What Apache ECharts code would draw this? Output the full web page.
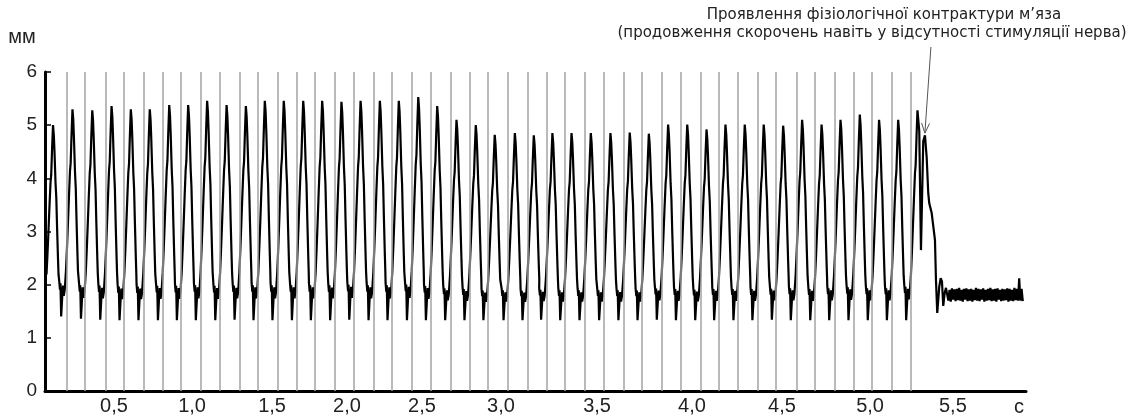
<!DOCTYPE html>
<html>
<head>
<meta charset="utf-8">
<script src="https://cdn.jsdelivr.net/npm/echarts@6/dist/echarts.min.js"></script>
<style>html,body{margin:0;padding:0;background:#fff}#c{width:1136px;height:417px}</style>
</head>
<body>
<div id="c"></div>
<script>
// ---- data ----
// stimulus marks (s); first one coincides with the y axis
const stimTimes = [0.009,0.125,0.243,0.358,0.473,0.586,0.702,0.815,0.928,1.044,1.159,1.272,1.385,1.501,1.614,1.729,1.843,1.958,2.071,2.187,2.300,2.415,2.530,2.643,2.763,2.876,2.987,3.101,3.216,3.333,3.448,3.562,3.677,3.791,3.906,4.019,4.134,4.247,4.363,4.476,4.592,4.705,4.820,4.935,5.049,5.164];
// peak amplitude of each contraction (mm), one per stimulus
const peakValues = [5.00,5.30,5.28,5.36,5.30,5.30,5.38,5.38,5.46,5.38,5.36,5.46,5.46,5.46,5.46,5.44,5.46,5.46,5.46,5.53,5.36,5.10,5.00,4.82,4.85,4.81,4.85,4.85,4.85,4.85,4.86,4.84,5.01,5.01,4.92,5.01,5.01,5.01,4.99,5.10,5.01,5.10,5.20,5.10,5.10,5.28];
// trough (relaxation) level before each contraction (mm)
const troughValues = [1.40,1.40,1.36,1.34,1.33,1.33,1.33,1.33,1.33,1.33,1.34,1.33,1.33,1.33,1.33,1.33,1.34,1.33,1.33,1.33,1.33,1.33,1.33,1.33,1.33,1.33,1.34,1.33,1.33,1.33,1.33,1.33,1.34,1.33,1.33,1.33,1.33,1.33,1.34,1.33,1.33,1.33,1.33,1.33,1.33,1.33];
// shape of one contraction read from a representative cycle:
// time offset from its stimulus (s) and relative level (0 = trough, 1 = peak)
const shapeOffsets = [-0.0400,-0.0358,-0.0328,-0.0286,-0.0227,-0.0179,-0.0131,-0.0072,0,0.0060,0.0119,0.0179,0.0239,0.0280,0.0334,0.0388,0.0435,0.0477,0.0537,0.0584,0.0632,0.0686,0.0716];
const shapeLevels  = [0.17,0.13,0.16,0,0.09,0.15,0.10,0.13,0.22,0.33,0.45,0.58,0.70,0.74,0.88,1,0.95,0.86,0.70,0.62,0.46,0.30,0.22];
// contracture at the end of the record
const endTimes  = [5.2135,5.2236,5.2373,5.2475,5.2576,5.2671,5.2731,5.2874,5.2970,5.3071,5.3131,5.3208,5.3268,5.3327,5.3411,5.3489,5.3566,5.3650,5.3727];
const endValues = [4.89,2.65,4.70,4.81,4.40,3.72,3.53,3.35,3.35,2.84,2.09,1.47,1.50,1.96,2.12,2.06,1.60,1.84,1.94];
// resting record after contracture, sampled every restStep s from restStart
const restStart = 5.3798, restStep = 0.00716;
const restValues = [1.92,1.70,1.90,1.68,1.93,1.72,1.91,1.69,1.92,1.71,1.94,1.70,1.90,1.68,1.92,1.72,1.93,1.69,1.91,1.70,1.92,1.68,1.90,1.71,1.94,1.70,1.92,1.69,1.91,1.72,1.93,1.68,1.90,1.70,1.92,1.71,1.94,1.69,1.91,1.70,1.92,1.68,1.93,1.72,1.90,1.69,1.92,1.70,1.91,1.71,1.93,1.68,1.92,1.70,1.90,1.69,1.94,1.71,1.92,1.70,2.12,1.70,1.92,1.69];
// axis
const xTickValues = [0.411,0.877,1.354,1.801,2.248,2.719,3.292,3.858,4.395,4.920,5.414];
const xTickLabels = ['0,5','1,0','1,5','2,0','2,5','3,0','3,5','4,0','4,5','5,0','5,5'];
const yTicks = [0,1,2,3,4,5,6];
const annotation = ['Проявлення фізіологічної контрактури м’яза','(продовження скорочень навіть у відсутності стимуляції нерва)'];
const arrowFrom = [5.283, 6.47], arrowTo = [5.247, 4.85];

// ---- build trace ----
const trace = [];
const last = stimTimes.length - 1;
const peakIdx = shapeLevels.indexOf(1);
for (let k = 0; k <= last; k++) {
  const g = stimTimes[k], P = peakValues[k], T = troughValues[k];
  const n = (k === last) ? peakIdx + 1 : shapeOffsets.length;
  for (let i = 0; i < n; i++) {
    const t = g + shapeOffsets[i];
    if (t < 0.003) continue;
    trace.push([t, T + shapeLevels[i] * (P - T)]);
  }
}
endTimes.forEach((t, i) => trace.push([t, endValues[i]]));
restValues.forEach((v, i) => trace.push([restStart + i * restStep, v]));

const FONT = '"Liberation Sans", Arial, Helvetica, sans-serif';
const chart = echarts.init(document.getElementById('c'), null, {renderer: 'canvas'});
chart.setOption({
  animation: false,
  backgroundColor: '#fff',
  grid: {left: 45, right: 110, top: 72, bottom: 26, containLabel: false},
  xAxis: {
    type: 'value', min: 0, max: 5.85,
    name: 'с', nameLocation: 'end', nameGap: -12,
    nameTextStyle: {fontSize: 20, color: '#222', fontFamily: FONT, verticalAlign: 'top', padding: [6, 0, 0, 0]},
    axisLine: {lineStyle: {color: '#000', width: 3}},
    axisTick: {show: false},
    splitLine: {show: false},
    axisLabel: {
      customValues: xTickValues,
      fontSize: 20, color: '#222', fontFamily: FONT, margin: 5,
      formatter: function (v) {
        let best = 0;
        xTickValues.forEach((x, i) => { if (Math.abs(x - v) < Math.abs(xTickValues[best] - v)) best = i; });
        return xTickLabels[best];
      }
    }
  },
  yAxis: {
    type: 'value', min: 0, max: 6, interval: 1,
    name: 'мм', nameLocation: 'end', nameGap: 35,
    nameTextStyle: {fontSize: 20, color: '#222', fontFamily: FONT, align: 'center', verticalAlign: 'middle', padding: [0, 46, 0, 0]},
    axisLine: {show: true, lineStyle: {color: '#000', width: 3}},
    axisTick: {show: true, inside: true, length: 6, lineStyle: {color: '#000', width: 1.5}},
    splitLine: {show: false},
    axisLabel: {fontSize: 19, color: '#222', fontFamily: FONT, margin: 8,
      formatter: v => yTicks.includes(v) ? String(v) : ''}
  },
  series: [
    {
      type: 'line', data: [], silent: true,
      markLine: {
        silent: true, symbol: 'none', animation: false,
        label: {show: false},
        lineStyle: {color: '#a3a3a3', width: 1.5, type: 'solid'},
        data: stimTimes.slice(1).map(t => ({xAxis: t}))
      }
    },
    {
      type: 'line', data: trace, showSymbol: false, silent: true, clip: false,
      lineStyle: {color: '#000', width: 2.2}, z: 3
    }
  ],
  graphic: [
    {type: 'text', x: 884, y: 15, style: {text: annotation[0], fontSize: 15, fontFamily: '"DejaVu Sans", sans-serif', fill: '#222', align: 'center', verticalAlign: 'middle'}},
    {type: 'text', x: 872, y: 33, style: {text: annotation[1], fontSize: 15, fontFamily: '"DejaVu Sans", sans-serif', fill: '#222', align: 'center', verticalAlign: 'middle'}}
  ]
});

// annotation arrow, placed through the chart's own coordinate system
const p0 = chart.convertToPixel({gridIndex: 0}, arrowFrom);
const p1 = chart.convertToPixel({gridIndex: 0}, arrowTo);
const dx = p1[0] - p0[0], dy = p1[1] - p0[1], len = Math.hypot(dx, dy);
const ux = dx / len, uy = dy / len, head = 10, wing = 4;
const w1 = [p1[0] - ux * head - uy * wing, p1[1] - uy * head + ux * wing];
const w2 = [p1[0] - ux * head + uy * wing, p1[1] - uy * head - ux * wing];
chart.setOption({
  graphic: [
    {type: 'text', x: 884, y: 15, style: {text: annotation[0], fontSize: 15, fontFamily: '"DejaVu Sans", sans-serif', fill: '#222', align: 'center', verticalAlign: 'middle'}},
    {type: 'text', x: 872, y: 33, style: {text: annotation[1], fontSize: 15, fontFamily: '"DejaVu Sans", sans-serif', fill: '#222', align: 'center', verticalAlign: 'middle'}},
    {type: 'line', z: 10, shape: {x1: p0[0], y1: p0[1], x2: p1[0], y2: p1[1]}, style: {stroke: '#555', lineWidth: 1}},
    {type: 'polyline', z: 10, shape: {points: [w1, p1, w2]}, style: {stroke: '#555', lineWidth: 1, fill: null}}
  ]
});
</script>
</body>
</html>
